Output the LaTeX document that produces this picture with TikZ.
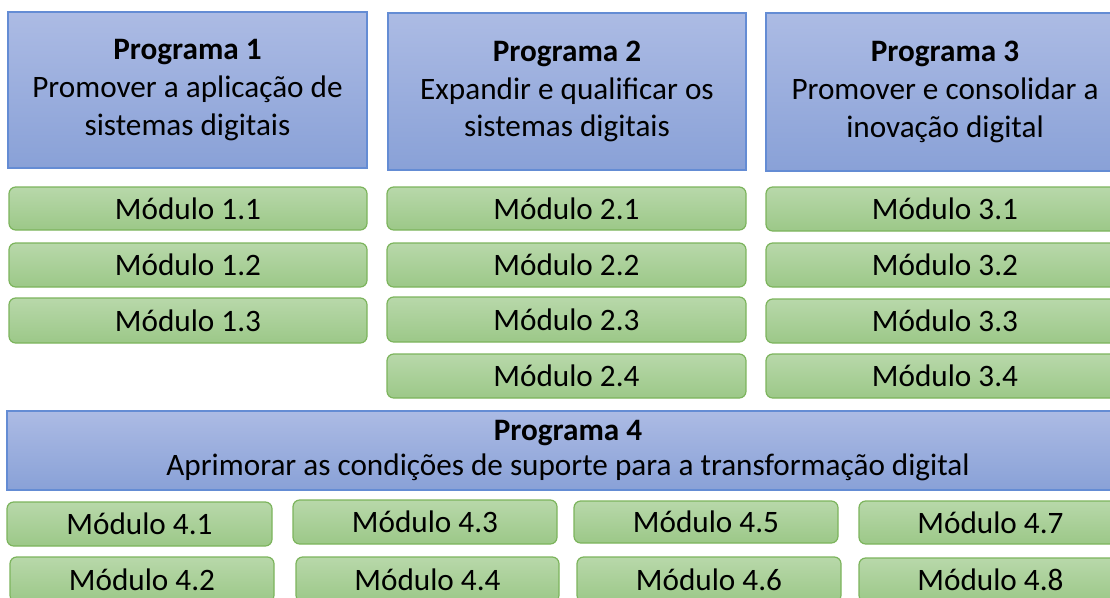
\documentclass[tikz,border=0pt]{standalone}
\usepackage{fontspec}
\setmainfont{Carlito}
\definecolor{progtop}{RGB}{172,187,228}
\definecolor{progbot}{RGB}{137,161,215}
\definecolor{progline}{RGB}{100,140,212}
\definecolor{modtop}{RGB}{184,216,170}
\definecolor{modbot}{RGB}{156,200,136}
\definecolor{modline}{RGB}{124,180,92}
\tikzset{
  boxpos/.style n args={4}{minimum width={(#3-#1)*0.75pt}, minimum height={(#4-#2)*0.75pt}, at={({(#1+#3)/2},{(#2+#4)/2})}},
  prog/.style={draw=progline, line width=0.9pt, top color=progtop, bottom color=progbot, inner sep=0pt, align=center, text=black, font=\fontsize{23.4}{28.3}\selectfont},
  mod/.style={draw=modline, line width=0.9pt, rounded corners=5pt, top color=modtop, bottom color=modbot, inner sep=0pt, align=center, text=black, font=\fontsize{23.4}{28}\selectfont},
}
\begin{document}
\begin{tikzpicture}[x=0.75pt,y=-0.75pt]
\useasboundingbox (0,0) rectangle (1110,597);
\clip (0,0) rectangle (1110,597);
% Programs
\node[prog, boxpos={8}{12}{367}{168}] (p1) {\textbf{Programa 1}\\Promover a aplicação de\\sistemas digitais};
\node[prog, boxpos={388}{13}{746}{170}] (p2) {\textbf{Programa 2}\\Expandir e qualificar os\\sistemas digitais};
\node[prog, boxpos={766}{13}{1124}{171}] (p3) {\textbf{Programa 3}\\Promover e consolidar a\\inovação digital};
% Modules column 1
\node[mod, boxpos={9}{187}{367}{230}] (m11) {Módulo 1.1};
\node[mod, boxpos={9}{243}{367}{287}] (m12) {Módulo 1.2};
\node[mod, boxpos={9}{298}{367}{343}] (m13) {Módulo 1.3};
% Modules column 2
\node[mod, boxpos={387}{187}{746}{230}] (m21) {Módulo 2.1};
\node[mod, boxpos={387}{243}{746}{287}] (m22) {Módulo 2.2};
\node[mod, boxpos={387}{297}{746}{342}] (m23) {Módulo 2.3};
\node[mod, boxpos={387}{354}{746}{398}] (m24) {Módulo 2.4};
% Modules column 3
\node[mod, boxpos={766}{187}{1124}{231}] (m31) {Módulo 3.1};
\node[mod, boxpos={766}{243}{1124}{287}] (m32) {Módulo 3.2};
\node[mod, boxpos={766}{299}{1124}{343}] (m33) {Módulo 3.3};
\node[mod, boxpos={766}{354}{1124}{398}] (m34) {Módulo 3.4};
% Program 4
\node[prog, boxpos={7}{411}{1129}{490}, font=\fontsize{23.4}{26.5}\selectfont] (p4) {\textbf{Programa 4}\\Aprimorar as condições de suporte para a transformação digital};
% Modules of program 4
\node[mod, boxpos={7}{502}{272}{546}] (m41) {Módulo 4.1};
\node[mod, boxpos={10}{557}{274}{602}] (m42) {Módulo 4.2};
\node[mod, boxpos={293}{500}{557}{544}] (m43) {Módulo 4.3};
\node[mod, boxpos={296}{557}{559}{602}] (m44) {Módulo 4.4};
\node[mod, boxpos={574}{501}{838}{543}] (m45) {Módulo 4.5};
\node[mod, boxpos={577}{557}{841}{602}] (m46) {Módulo 4.6};
\node[mod, boxpos={859}{501}{1122}{544}] (m47) {Módulo 4.7};
\node[mod, boxpos={859}{558}{1122}{602}] (m48) {Módulo 4.8};
\end{tikzpicture}
\end{document}
